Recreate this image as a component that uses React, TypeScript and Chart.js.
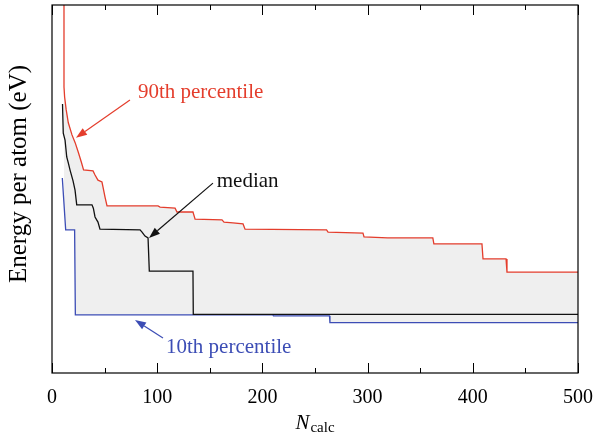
import React, { useEffect, useRef } from "react";
import { Chart, registerables } from "chart.js";

Chart.register(...registerables);

// N_calc values and relative energy (arbitrary units, 0..1 across the axis)
const p90N = [11.4, 11.4, 12, 13.5, 15.5, 19, 22, 25, 28, 30, 39, 40.9, 43.7, 47.5, 48.5, 50.4, 52.3, 100.8, 102.7, 117, 118.8, 134, 136, 161.6, 163.5, 172, 181.6, 183.5, 261, 262.4, 295.6, 296.6, 319, 362, 363, 408.7, 409.7, 431.6, 432.5, 500];
const p90E = [1.3, 0.777, 0.75, 0.715, 0.68, 0.647, 0.626, 0.6, 0.572, 0.552, 0.549, 0.538, 0.524, 0.519, 0.505, 0.478, 0.454, 0.454, 0.451, 0.448, 0.4375, 0.4375, 0.418, 0.416, 0.41, 0.408, 0.405, 0.391, 0.389, 0.383, 0.38, 0.37, 0.367, 0.367, 0.351, 0.351, 0.31, 0.31, 0.274, 0.274];

const medN = [10, 10.7, 12.4, 14, 15.5, 17.1, 20, 21.9, 23.5, 38, 39.3, 40.9, 43.7, 45.6, 83.7, 85.6, 88.4, 91.3, 92.5, 134, 134.3, 500];
const medE = [0.731, 0.652, 0.633, 0.587, 0.571, 0.552, 0.522, 0.497, 0.457, 0.457, 0.448, 0.424, 0.41, 0.391, 0.389, 0.383, 0.372, 0.367, 0.277, 0.277, 0.1595, 0.1595];

const p10N = [9.8, 13, 21.5, 22.2, 210, 210.5, 263.8, 264.2, 500];
const p10E = [0.53, 0.389, 0.389, 0.158, 0.158, 0.155, 0.155, 0.1367, 0.1367];

const xTicks = [0, 100, 200, 300, 400, 500];

const RED = "#e43d2c";
const BLUE = "#3c4db5";
const BLACK = "#111111";
const FILL = "#efefef";
const SERIF = "'Liberation Serif', 'DejaVu Serif', serif";

const toPts = (xs: number[], ys: number[]) => xs.map((x, i) => ({ x, y: ys[i] }));

const annotations = [
  { text: "90th percentile", color: RED, tx: 81.7, ty: 0.747, ax: 74.1, ay: 0.742, bx: 22.8, by: 0.639 },
  { text: "median", color: BLACK, tx: 156.6, ty: 0.506, ax: 153, ay: 0.516, bx: 92.2, by: 0.367 },
  { text: "10th percentile", color: BLUE, tx: 108.4, ty: 0.054, ax: 105.5, ay: 0.095, bx: 78.9, by: 0.144 },
];

const decor = {
  id: "decor",
  afterDraw(chart: any) {
    const { ctx, chartArea: a, scales } = chart;
    const xs = scales.x;
    const ys = scales.y;
    ctx.save();
    // frame
    ctx.strokeStyle = "#000";
    ctx.lineWidth = 1.2;
    ctx.strokeRect(a.left, a.top, a.right - a.left, a.bottom - a.top);
    // inward ticks top & bottom
    ctx.lineWidth = 1;
    for (let v = 0; v <= 500; v += 50) {
      const px = Math.round(xs.getPixelForValue(v)) + 0.5;
      const len = v % 100 === 0 ? 10 : 5;
      ctx.beginPath();
      ctx.moveTo(px, a.bottom);
      ctx.lineTo(px, a.bottom - len);
      ctx.moveTo(px, a.top);
      ctx.lineTo(px, a.top + len);
      ctx.stroke();
    }
    // annotations
    for (const an of annotations) {
      ctx.fillStyle = an.color;
      ctx.strokeStyle = an.color;
      ctx.font = `21px ${SERIF}`;
      ctx.textBaseline = "alphabetic";
      ctx.textAlign = "left";
      ctx.fillText(an.text, xs.getPixelForValue(an.tx), ys.getPixelForValue(an.ty));
      const x1 = xs.getPixelForValue(an.ax), y1 = ys.getPixelForValue(an.ay);
      const x2 = xs.getPixelForValue(an.bx), y2 = ys.getPixelForValue(an.by);
      const ang = Math.atan2(y2 - y1, x2 - x1);
      const hl = 11, hw = 4;
      const bx = x2 - hl * Math.cos(ang), by = y2 - hl * Math.sin(ang);
      ctx.lineWidth = 1.2;
      ctx.beginPath();
      ctx.moveTo(x1, y1);
      ctx.lineTo(bx, by);
      ctx.stroke();
      ctx.beginPath();
      ctx.moveTo(x2, y2);
      ctx.lineTo(bx + hw * Math.sin(ang), by - hw * Math.cos(ang));
      ctx.lineTo(bx - hw * Math.sin(ang), by + hw * Math.cos(ang));
      ctx.closePath();
      ctx.fill();
    }
    // y title
    ctx.fillStyle = "#000";
    ctx.font = `25px ${SERIF}`;
    ctx.textAlign = "center";
    ctx.textBaseline = "middle";
    ctx.save();
    ctx.translate(19, 174);
    ctx.rotate(-Math.PI / 2);
    ctx.fillText("Energy per atom (eV)", 0, 0);
    ctx.restore();
    // x title N_calc
    ctx.textAlign = "left";
    ctx.textBaseline = "alphabetic";
    ctx.font = `italic 21px ${SERIF}`;
    const nW = ctx.measureText("N").width;
    ctx.font = `15px ${SERIF}`;
    const cW = ctx.measureText("calc").width;
    const cx = (a.left + a.right) / 2;
    const start = cx - (nW + cW + 1) / 2;
    ctx.font = `italic 21px ${SERIF}`;
    ctx.fillText("N", start, 429);
    ctx.font = `15px ${SERIF}`;
    ctx.fillText("calc", start + nW + 1, 432);
    ctx.restore();
  },
};

export default function App() {
  const ref = useRef<HTMLCanvasElement>(null);
  useEffect(() => {
    document.body.style.margin = "0";
    const chart = new Chart(ref.current!, {
      type: "line",
      data: {
        datasets: [
          {
            label: "90th percentile",
            data: toPts(p90N, p90E),
            borderColor: RED,
            borderWidth: 1.3,
            pointRadius: 0,
            fill: 2,
            backgroundColor: FILL,
          },
          {
            label: "median",
            data: toPts(medN, medE),
            borderColor: BLACK,
            borderWidth: 1.3,
            pointRadius: 0,
            fill: false,
          },
          {
            label: "10th percentile",
            data: toPts(p10N, p10E),
            borderColor: BLUE,
            borderWidth: 1.3,
            pointRadius: 0,
            fill: false,
          },
        ],
      },
      options: {
        animation: false,
        responsive: false,
        layout: { padding: { top: 5, right: 18, left: 0, bottom: 0 } },
        plugins: {
          legend: { display: false },
          tooltip: { enabled: false },
          filler: { drawTime: "beforeDatasetsDraw" } as any,
        },
        scales: {
          x: {
            type: "linear",
            min: 0,
            max: 500,
            grid: { display: false, drawTicks: false },
            border: { display: false },
            afterBuildTicks: (s: any) => {
              s.ticks = xTicks.map((v) => ({ value: v }));
            },
            afterFit: (s: any) => {
              s.height = 61;
              s.paddingLeft = 0;
              s.paddingRight = 0;
            },
            ticks: {
              font: { family: SERIF, size: 20 },
              color: "#000",
              padding: 13,
              maxRotation: 0,
              autoSkip: false,
            },
          },
          y: {
            type: "linear",
            min: 0,
            max: 1,
            grid: { display: false, drawTicks: false },
            border: { display: false },
            ticks: { display: false },
            afterFit: (s: any) => {
              s.width = 52;
              s.paddingTop = 0;
              s.paddingBottom = 0;
            },
          },
        },
      },
      plugins: [decor],
    });
    return () => chart.destroy();
  }, []);
  return (
    <div style={{ width: 596, height: 434 }}>
      <canvas ref={ref} width={596} height={434} style={{ display: "block" }} />
    </div>
  );
}
